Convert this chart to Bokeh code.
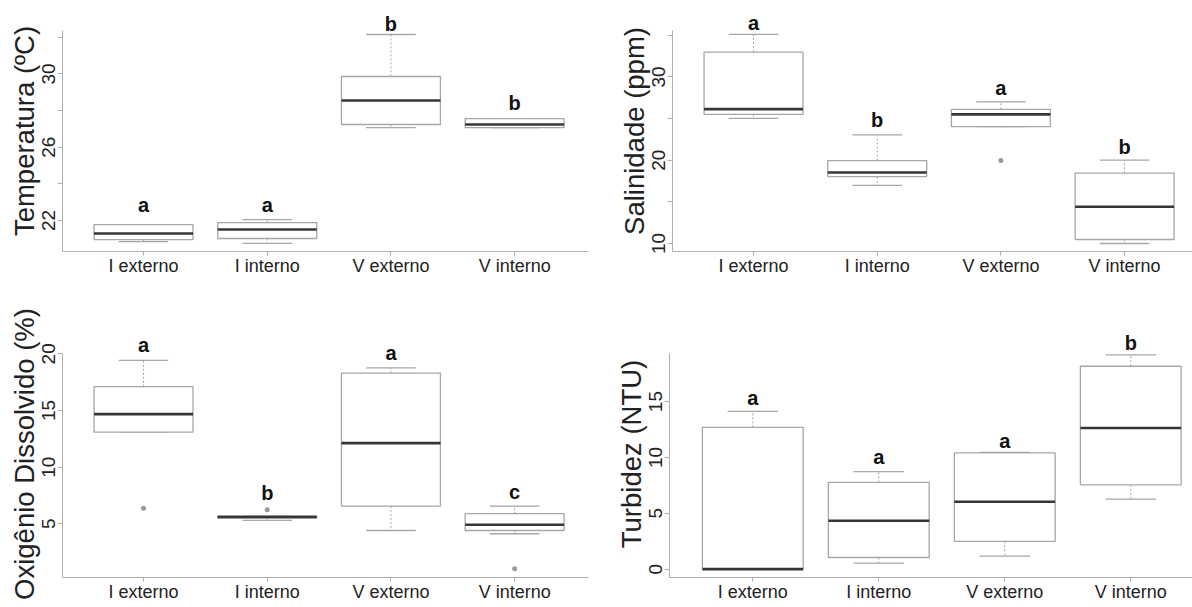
from bokeh.plotting import figure
from bokeh.layouts import row, column
from bokeh.models import ColumnDataSource, FixedTicker, Range1d
from bokeh.core.properties import value
from bokeh.embed import file_html
from bokeh.resources import INLINE

categories = ["I externo", "I interno", "V externo", "V interno"]
positions = [1, 2, 3, 4]

# Temperatura (ºC)
temp_low = [20.85, 20.75, 27.07, 27.07]
temp_q1 = [20.96, 21.02, 27.24, 27.07]
temp_med = [21.29, 21.51, 28.55, 27.24]
temp_q3 = [21.78, 21.89, 29.86, 27.56]
temp_high = [21.78, 22.05, 32.15, 27.56]
temp_out_pos = []
temp_out_val = []
temp_letters = ["a", "a", "b", "b"]
temp_letter_y = [22.87, 22.87, 32.75, 28.44]
temp_ticks = [22, 24, 26, 28, 30, 32]
temp_tick_labels = ["22", "", "26", "", "30", ""]

# Salinidade (ppm)
sal_low = [25.02, 16.97, 24.02, 10.0]
sal_q1 = [25.5, 18.04, 24.02, 10.48]
sal_med = [26.13, 18.52, 25.5, 14.42]
sal_q3 = [32.98, 19.96, 26.1, 18.45]
sal_high = [35.1, 23.03, 27.0, 20.0]
sal_out_pos = [3]
sal_out_val = [19.96]
sal_letters = ["a", "b", "a", "b"]
sal_letter_y = [36.41, 24.82, 28.71, 21.59]
sal_ticks = [10, 15, 20, 25, 30, 35]
sal_tick_labels = ["10", "", "20", "", "30", ""]

# Oxigênio Dissolvido (%)
oxy_low = [13.09, 5.3, 4.41, 4.12]
oxy_q1 = [13.09, 5.5, 6.56, 4.41]
oxy_med = [14.68, 5.6, 12.12, 4.92]
oxy_q3 = [17.1, 5.7, 18.3, 5.89]
oxy_high = [19.42, 5.7, 18.77, 6.56]
oxy_out_pos = [1, 2, 4]
oxy_out_val = [6.38, 6.24, 1.03]
oxy_letters = ["a", "b", "a", "c"]
oxy_letter_y = [20.74, 7.71, 20.06, 7.79]
oxy_ticks = [5, 10, 15, 20]
oxy_tick_labels = ["5", "10", "15", "20"]

# Turbidez (NTU)
turb_low = [0.0, 0.54, 1.16, 6.27]
turb_q1 = [0.0, 1.04, 2.48, 7.55]
turb_med = [0.0, 4.33, 6.03, 12.63]
turb_q3 = [12.69, 7.77, 10.4, 18.16]
turb_high = [14.12, 8.72, 10.45, 19.17]
turb_out_pos = []
turb_out_val = []
turb_letters = ["a", "a", "a", "b"]
turb_letter_y = [15.32, 10.0, 11.43, 20.25]
turb_ticks = [0, 5, 10, 15]
turb_tick_labels = ["0", "5", "10", "15"]

BOX_W = 0.8
CAP_W = 0.4
LINE_COL = "#a6a6a6"
MED_COL = "#363636"
AXIS_COL = "#b0b0b0"
TXT_COL = "#222222"
FONT = "Liberation Sans"


def panel(ylabel, low, q1, med, q3, high, out_pos, out_val, letters, letter_y,
          ticks, tick_labels, xr, yr, ytop, width, height, bl, br, bt, bb):
    p = figure(width=width, height=height, output_backend="svg", toolbar_location=None,
               x_range=Range1d(*xr), y_range=Range1d(yr[0], ytop),
               min_border_left=bl, min_border_right=br, min_border_top=bt, min_border_bottom=bb)
    p.outline_line_color = None
    p.xgrid.visible = False
    p.ygrid.visible = False
    p.background_fill_color = "white"
    p.border_fill_color = "white"

    src = ColumnDataSource(dict(
        x=positions, low=low, q1=q1, med=med, q3=q3, high=high,
        x0=[x - BOX_W / 2 for x in positions], x1=[x + BOX_W / 2 for x in positions],
        c0=[x - CAP_W / 2 for x in positions], c1=[x + CAP_W / 2 for x in positions],
        lab=letters, ly=letter_y))

    # whiskers
    p.segment("x", "q3", "x", "high", source=src, line_color=LINE_COL, line_width=1, line_dash="2 2")
    p.segment("x", "q1", "x", "low", source=src, line_color=LINE_COL, line_width=1, line_dash="2 2")
    # caps
    p.segment("c0", "high", "c1", "high", source=src, line_color=LINE_COL, line_width=1.3)
    p.segment("c0", "low", "c1", "low", source=src, line_color=LINE_COL, line_width=1.3)
    # boxes
    p.quad(left="x0", right="x1", bottom="q1", top="q3", source=src,
           fill_color="white", line_color=LINE_COL, line_width=1.3)
    # medians
    p.segment("x0", "med", "x1", "med", source=src, line_color=MED_COL, line_width=2.6)
    # outliers
    if out_pos:
        p.scatter(out_pos, out_val, size=5, color="#9a9a9a", line_color=None)

    p.text(x="x", y="ly", text="lab", source=src, text_align="center",
           text_baseline="middle", text_font=value(FONT), text_font_style="bold",
           text_font_size="20px", text_color="#111111")

    ax = p.xaxis[0]
    ax.ticker = FixedTicker(ticks=positions)
    ax.major_label_overrides = {pos: c for pos, c in zip(positions, categories)}
    ax.minor_tick_line_color = None
    ax.axis_line_color = AXIS_COL
    ax.major_tick_line_color = AXIS_COL
    ax.major_tick_out = 4
    ax.major_tick_in = 0
    ax.major_label_standoff = 0
    ax.major_label_text_font = FONT
    ax.major_label_text_font_size = "18px"
    ax.major_label_text_color = TXT_COL

    ay = p.yaxis[0]
    ay.bounds = (yr[0], yr[1])
    ay.ticker = FixedTicker(ticks=ticks)
    ay.major_label_overrides = {t: l for t, l in zip(ticks, tick_labels)}
    ay.minor_tick_line_color = None
    ay.axis_line_color = AXIS_COL
    ay.major_tick_line_color = AXIS_COL
    ay.major_tick_out = 5
    ay.major_tick_in = 0
    ay.major_label_standoff = 2
    ay.major_label_orientation = "vertical"
    ay.major_label_text_font = FONT
    ay.major_label_text_font_size = "19px"
    ay.major_label_text_color = TXT_COL
    ay.axis_label = ylabel
    ay.axis_label_standoff = 0
    ay.axis_label_text_font = FONT
    ay.axis_label_text_font_style = "normal"
    ay.axis_label_text_font_size = "27.5px"
    ay.axis_label_text_color = TXT_COL
    return p


p1 = panel("Temperatura (ºC)", temp_low, temp_q1, temp_med, temp_q3, temp_high,
           temp_out_pos, temp_out_val, temp_letters, temp_letter_y, temp_ticks, temp_tick_labels,
           (0.345, 4.597), (20.31, 32.37), 33.46, 596, 300, 62, 8, 10, 49)
p2 = panel("Salinidade (ppm)", sal_low, sal_q1, sal_med, sal_q3, sal_high,
           sal_out_pos, sal_out_val, sal_letters, sal_letter_y, sal_ticks, sal_tick_labels,
           (0.345, 4.549), (9.04, 35.58), 37.97, 596, 300, 76, 0, 10, 48)
p3 = panel("Oxigênio Dissolvido (%)", oxy_low, oxy_q1, oxy_med, oxy_q3, oxy_high,
           oxy_out_pos, oxy_out_val, oxy_letters, oxy_letter_y, oxy_ticks, oxy_tick_labels,
           (0.345, 4.597), (0.26, 20.06), 22.06, 596, 307, 62, 8, 30, 30)
p4 = panel("Turbidez (NTU)", turb_low, turb_q1, turb_med, turb_q3, turb_high,
           turb_out_pos, turb_out_val, turb_letters, turb_letter_y, turb_ticks, turb_tick_labels,
           (0.339, 4.49), (-0.75, 19.27), 21.36, 596, 307, 73, 0, 30, 30)

layout = column(row(p1, p2, spacing=0), row(p3, p4, spacing=0), spacing=0)
open("out.html", "w").write(file_html(layout, INLINE))
